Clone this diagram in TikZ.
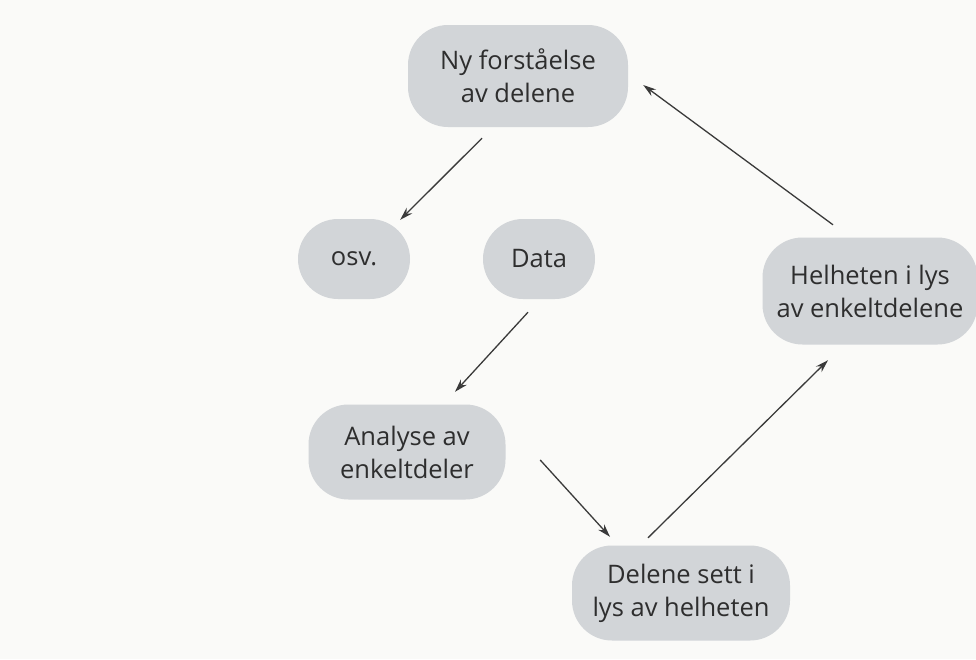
\documentclass[tikz,border=0pt]{standalone}
\usepackage{fontspec}
\setmainfont{Open Sans}
\usetikzlibrary{arrows.meta}
\definecolor{paper}{HTML}{FAFAF8}
\definecolor{boxgrey}{HTML}{D2D5D8}
\definecolor{ink}{HTML}{2E2E2E}
\definecolor{arrowink}{HTML}{3A3A3A}
\tikzset{
  bubble/.style={fill=boxgrey, rounded corners=40pt, inner sep=0pt, align=center,
    text=ink, font=\fontsize{25.5}{33}\selectfont},
  arr/.style={draw=arrowink, line width=1.3pt, -{Stealth[length=13pt,width=8pt]}}
}
\begin{document}
\begin{tikzpicture}[x=1pt,y=-1pt]
\fill[paper] (0,0) rectangle (976,659);
\useasboundingbox (0,0) rectangle (976,659);
\node[bubble, minimum width=220pt, minimum height=102pt] (ny) at (518,76) {Ny forståelse\\av delene};
\node[bubble, minimum width=112pt, minimum height=80pt] (osv) at (354,259) {osv.};
\node[bubble, minimum width=112pt, minimum height=80pt] (data) at (539,259) {Data};
\node[bubble, minimum width=197pt, minimum height=95pt] (ana) at (407,452) {Analyse av\\enkeltdeler};
\node[bubble, minimum width=218pt, minimum height=95pt] (del) at (681,593) {Delene sett i\\lys av helheten};
\node[bubble, minimum width=215pt, minimum height=107pt] (hel) at (870,291) {Helheten i lys\\av enkeltdelene};
\draw[arr] ([xshift=-36pt,yshift=-11pt]ny.south) -- ([xshift=-10pt,yshift=-1pt]osv.north east);
\draw[arr] ([xshift=-11pt,yshift=-13pt]data.south) -- ([xshift=48pt,yshift=12.5pt]ana.north);
\draw[arr] ([xshift=34.5pt,yshift=-8pt]ana.east) -- ([xshift=-71pt,yshift=8.5pt]del.north);
\draw[arr] ([xshift=-33pt,yshift=7.5pt]del.north) -- ([xshift=-42pt,yshift=-15.5pt]hel.south);
\draw[arr] ([xshift=-37pt,yshift=12.5pt]hel.north) -- ([xshift=15pt,yshift=-9pt]ny.east);
\end{tikzpicture}
\end{document}
